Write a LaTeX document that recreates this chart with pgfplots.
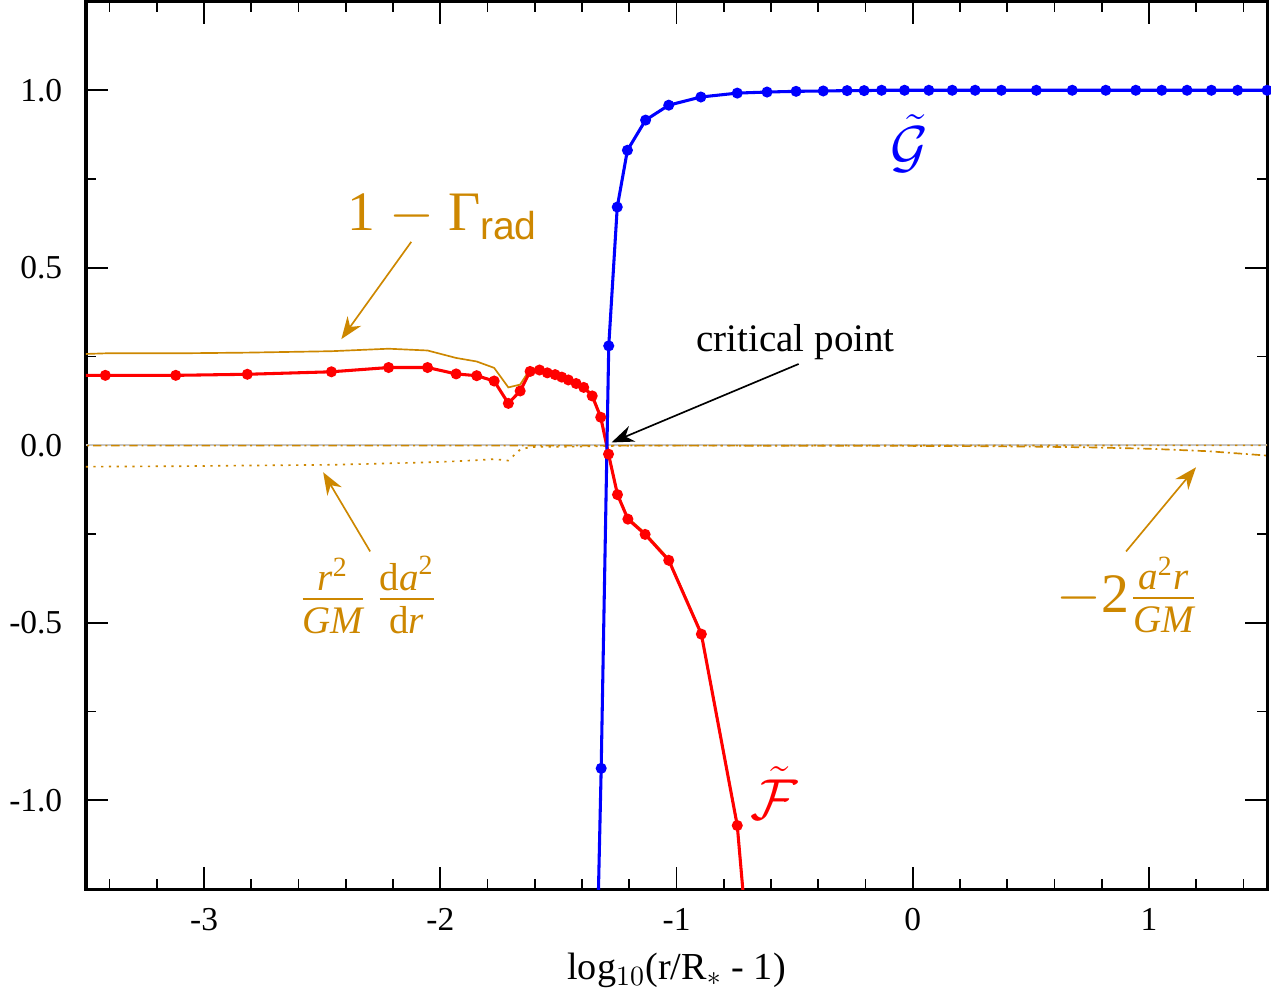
\documentclass[border=0pt]{standalone}
\usepackage{fontspec}
\setmainfont{Liberation Serif}
\setsansfont{Liberation Sans}
\usepackage{amsmath}
\usepackage{pgfplots}
\pgfplotsset{compat=1.18}
\usetikzlibrary{arrows.meta}
\definecolor{gold}{RGB}{205,135,0}

% F-tilde (red)
\pgfplotstableread{
x y
-3.700 0.197
-3.418 0.197
-3.120 0.197
-2.817 0.200
-2.461 0.207
-2.219 0.219
-2.054 0.219
-1.933 0.201
-1.846 0.196
-1.772 0.181
-1.712 0.118
-1.662 0.153
-1.620 0.208
-1.580 0.212
-1.547 0.204
-1.514 0.199
-1.486 0.192
-1.458 0.184
-1.425 0.174
-1.393 0.163
-1.357 0.139
-1.321 0.079
-1.288 -0.025
-1.250 -0.139
-1.206 -0.208
-1.133 -0.251
-1.033 -0.324
-0.895 -0.532
-0.743 -1.071
-0.700 -1.400
}\Ftab

% G-tilde (blue)
\pgfplotstableread{
x y
-1.357 -2.040
-1.319 -0.910
-1.287 0.280
-1.251 0.671
-1.208 0.831
-1.131 0.916
-1.033 0.958
-0.897 0.981
-0.743 0.992
-0.617 0.995
-0.494 0.997
-0.379 0.998
-0.278 0.999
-0.206 0.999
-0.132 1.000
-0.035 1.000
0.068 1.000
0.167 1.000
0.264 1.000
0.375 1.000
0.523 1.000
0.675 1.000
0.817 1.000
0.944 1.000
1.054 1.000
1.161 1.000
1.264 1.000
1.375 1.000
1.500 1.000
}\Gtab

% 1 - Gamma_rad
\pgfplotstableread{
x y
-3.700 0.253
-3.418 0.259
-3.120 0.259
-2.817 0.261
-2.461 0.265
-2.219 0.272
-2.054 0.267
-1.933 0.246
-1.846 0.236
-1.772 0.218
-1.712 0.163
-1.662 0.171
-1.620 0.215
-1.580 0.218
-1.547 0.210
-1.514 0.204
-1.486 0.197
-1.458 0.189
-1.425 0.179
-1.393 0.167
-1.357 0.143
-1.321 0.083
-1.288 -0.021
-1.250 -0.135
-1.206 -0.204
-1.133 -0.247
-1.033 -0.320
-0.895 -0.528
-0.743 -1.066
-0.700 -1.395
}\Gamtab

% r^2/GM da^2/dr
\pgfplotstableread{
x y
-3.700 -0.061
-3.418 -0.060
-3.120 -0.059
-2.817 -0.057
-2.461 -0.055
-2.219 -0.051
-2.054 -0.048
-1.933 -0.045
-1.846 -0.042
-1.772 -0.039
-1.712 -0.043
-1.662 -0.012
-1.620 -0.005
-1.547 -0.004
-1.458 -0.004
-1.357 -0.003
-1.288 -0.002
-1.133 -0.001
-0.743 -0.001
0.000 -0.0005
1.500 -0.0003
}\Dtab

% -2 a^2 r / GM
\pgfplotstableread{
x y
-3.700 -0.00089
-3.000 -0.00089
-2.000 -0.00090
-1.500 -0.00092
-1.000 -0.00098
-0.500 -0.00117
0.000 -0.00178
0.250 -0.00247
0.500 -0.00370
0.750 -0.00589
1.000 -0.00979
1.250 -0.0167
1.500 -0.0290
}\Atab

\begin{document}
\begin{tikzpicture}
\begin{axis}[
  scale only axis,
  width=424pt, height=318.6pt,
  xmin=-3.5, xmax=1.5, ymin=-1.25, ymax=1.25,
  xtick={-3,-2,-1,0,1}, xticklabels={-3,-2,-1,0,1},
  minor xtick={-3.4,-3.2,-2.8,-2.6,-2.4,-2.2,-1.8,-1.6,-1.4,-1.2,-0.8,-0.6,-0.4,-0.2,0.2,0.4,0.6,0.8,1.2,1.4},
  ytick={-1,-0.5,0,0.5,1}, yticklabels={-1.0,-0.5,0.0,0.5,1.0},
  minor ytick={-0.75,-0.25,0.25,0.75},
  tick align=inside,
  major tick length=8pt, minor tick length=3.6pt,
  every tick/.style={black, line width=0.6pt},
  axis line style={line width=1.1pt},
  tick label style={font=\fontsize{12}{14}\selectfont},
  yticklabel style={xshift=-5pt},
  xticklabel style={yshift=-3.5pt},
  xlabel={log$_{10}$(r/R$_*$ - 1)},
  xlabel style={font=\fontsize{13.7}{16}\selectfont, yshift=-1pt},
  clip=true,
]
% zero line
\addplot[gray!45, line width=0.6pt] coordinates {(-3.5,0) (1.5,0)};
% correction terms
\addplot[gold, line width=0.6pt, dash pattern=on 3pt off 1.4pt on 0.7pt off 1.4pt] table[x=x,y=y] {\Atab};
\addplot[gold, line width=0.6pt, dash pattern=on 0.8pt off 2pt] table[x=x,y=y] {\Dtab};
\addplot[gold, line width=0.6pt] table[x=x,y=y] {\Gamtab};
% F-tilde and G-tilde
\addplot[red, line width=1.1pt, mark=*, mark size=1.4pt, mark options={solid}] table[x=x,y=y] {\Ftab};
\addplot[blue, line width=1.1pt, mark=*, mark size=1.4pt, mark options={solid}] table[x=x,y=y] {\Gtab};

% annotations
\node[gold, font=\fontsize{20}{24}\selectfont] at (axis cs:-1.99,0.644) {1 $-$ Γ$_{\text{\sffamily rad}}$};
\draw[gold, line width=0.6pt, -{Stealth[length=8pt,width=6pt]}] (axis cs:-2.123,0.573) -- (axis cs:-2.419,0.299);

\node[black, font=\fontsize{14}{16}\selectfont] at (axis cs:-0.496,0.291) {critical point};
\draw[black, line width=0.6pt, -{Stealth[length=8pt,width=6pt]}] (axis cs:-0.483,0.229) -- (axis cs:-1.275,0.008);

\node[gold, font=\fontsize{20}{24}\selectfont] at (axis cs:-2.305,-0.421) {$\tfrac{\text{\itshape r}^{\text{2}}}{\text{\itshape GM}}\,\tfrac{\text{d\itshape a}^{\text{2}}}{\text{d\itshape r}}$};
\draw[gold, line width=0.6pt, -{Stealth[length=8pt,width=6pt]}] (axis cs:-2.297,-0.299) -- (axis cs:-2.496,-0.076);

\node[gold, font=\fontsize{20}{24}\selectfont] at (axis cs:0.907,-0.421) {$-\text{2}\tfrac{\text{\itshape a}^{\text{2}}\text{\itshape r}}{\text{\itshape GM}}$};
\draw[gold, line width=0.6pt, -{Stealth[length=8pt,width=6pt]}] (axis cs:0.903,-0.299) -- (axis cs:1.199,-0.062);

\node[blue, font=\fontsize{22}{26}\selectfont] at (axis cs:-0.013,0.850) {$\tilde{\mathcal{G}}$};
\node[red, font=\fontsize{22}{26}\selectfont] at (axis cs:-0.589,-0.980) {$\tilde{\mathcal{F}}$};
\end{axis}
\end{tikzpicture}
\end{document}
